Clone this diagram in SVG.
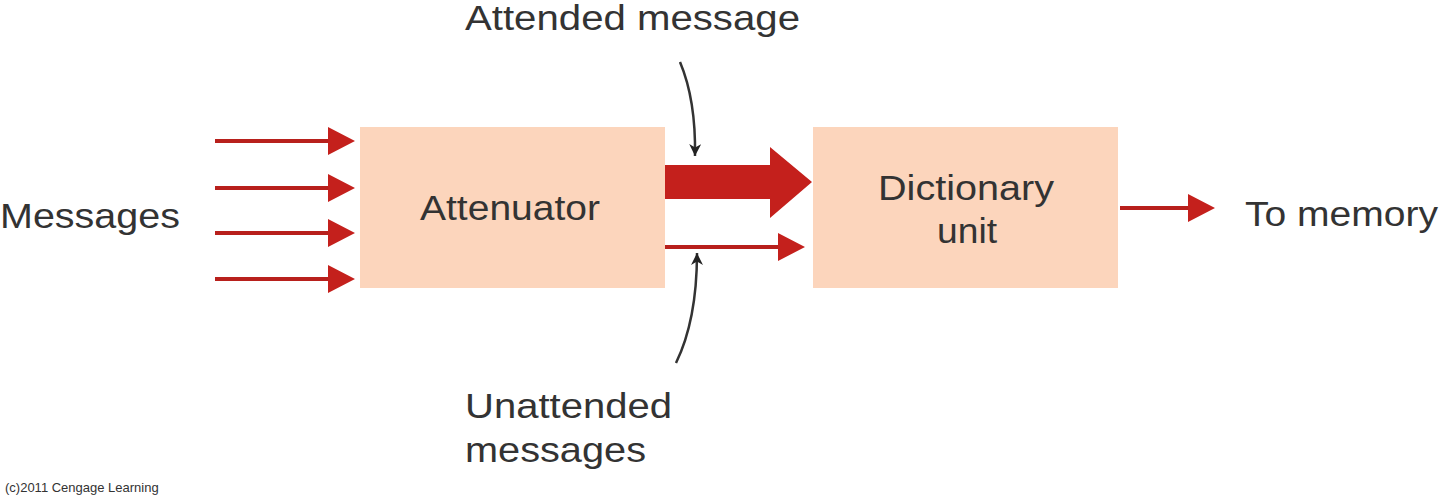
<svg xmlns="http://www.w3.org/2000/svg" width="1440" height="498" viewBox="0 0 1440 498">
<defs>
<style>
.box{fill:#fcd5bc}
.t{font-family:"Liberation Sans",Arial,sans-serif;font-size:35px;fill:#333}
.red{stroke:#b8201c;stroke-width:4;fill:none}
.rf{fill:#c4201c}
.blk{stroke:#333;stroke-width:2.5;fill:none}
</style>
<marker id="ah" viewBox="0 0 10 10" refX="10" refY="5" markerWidth="14" markerHeight="12" markerUnits="userSpaceOnUse" orient="auto"><path d="M0,0L10,5L0,10L3,5z" fill="#222"/></marker>
</defs>
<rect width="1440" height="498" fill="#fff"/>
<g id="attenuator"><rect class="box" x="360" y="127" width="305" height="161"/><text class="t" x="420" y="220" textLength="180" lengthAdjust="spacingAndGlyphs">Attenuator</text></g>
<g id="dictionary"><rect class="box" x="813" y="127" width="305" height="161"/><text class="t" x="878" y="200" textLength="176" lengthAdjust="spacingAndGlyphs">Dictionary</text><text class="t" x="937" y="243" textLength="60" lengthAdjust="spacingAndGlyphs">unit</text></g>
<g id="messages"><text class="t" x="0" y="228" textLength="180" lengthAdjust="spacingAndGlyphs">Messages</text></g>
<g id="tomemory"><text class="t" x="1245" y="226" textLength="193" lengthAdjust="spacingAndGlyphs">To memory</text></g>
<g id="attended"><text class="t" x="465" y="30" textLength="335" lengthAdjust="spacingAndGlyphs">Attended message</text></g>
<g id="unattended"><text class="t" x="465" y="418" textLength="207" lengthAdjust="spacingAndGlyphs">Unattended</text><text class="t" x="465" y="462" textLength="181" lengthAdjust="spacingAndGlyphs">messages</text></g>
<text x="5" y="492" font-family="Liberation Sans,sans-serif" font-size="13" fill="#333">(c)2011 Cengage Learning</text>
<g id="connectors">
<path class="red" d="M215,141H330M215,188H330M215,233H330M215,279H330M665,247H780M1120,208H1190"/>
<path class="rf" d="M328,127L355,141L328,155zM328,174L355,188L328,202zM328,219L355,233L328,247zM328,265L355,279L328,293zM778,233L805,247L778,261zM1188,194L1215,208L1188,222z"/>
<path class="rf" d="M665,165H770V147L812,182L770,218V199H665z"/>
<path class="blk" d="M680,62Q696,100 695,156" marker-end="url(#ah)"/>
<path class="blk" d="M676,363Q697,320 697,253" marker-end="url(#ah)"/>
</g>
</svg>
